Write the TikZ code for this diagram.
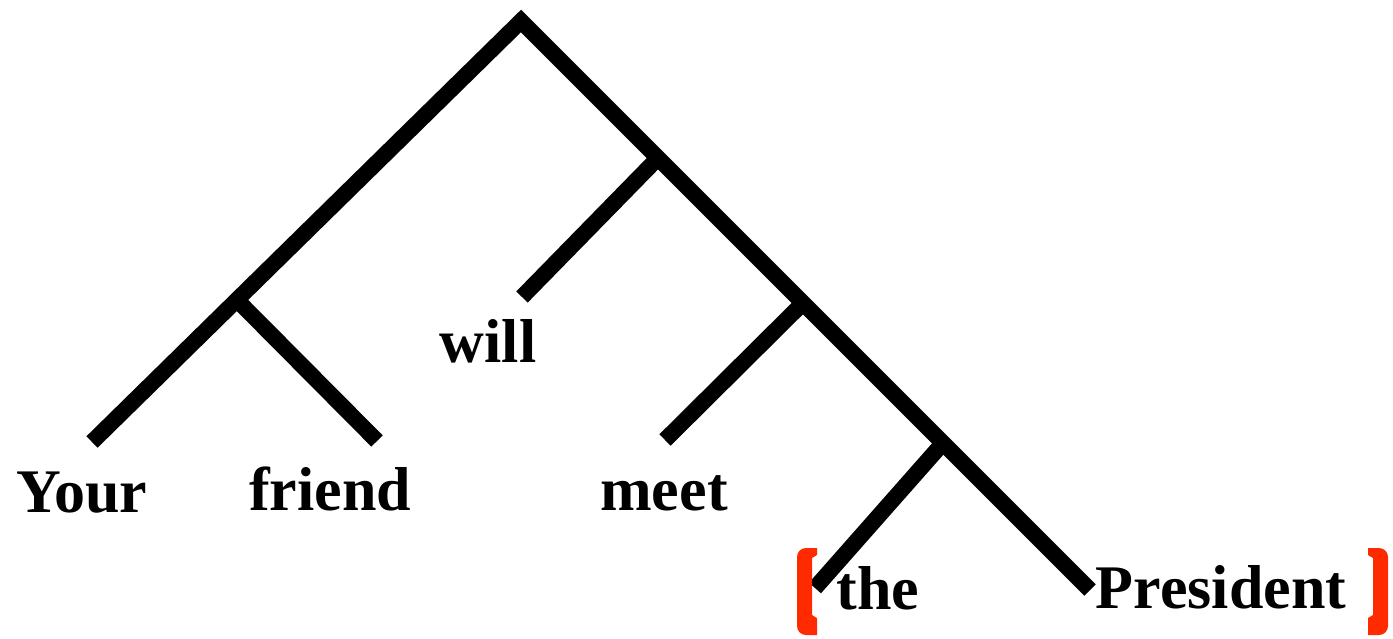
\documentclass[tikz,border=0pt]{standalone}
\usepackage{fontspec}
\setmainfont{Liberation Serif}
\definecolor{bracketred}{RGB}{255,42,0}
\begin{document}
\begin{tikzpicture}[x=1pt,y=-1pt,
  branch/.style={draw=black, line width=16pt, line cap=butt, line join=miter},
  word/.style={anchor=base, inner sep=0pt, font=\fontsize{62}{62}\selectfont\bfseries},
  brk/.style={fill=bracketred}]
\useasboundingbox (0,0) rectangle (1393,638);
% tree points
\coordinate (top) at (521,21);
\coordinate (j1) at (237,300);
\coordinate (yourE) at (92,442);
\coordinate (friendE) at (377,441);
\coordinate (j2) at (658,158);
\coordinate (willE) at (522,297);
\coordinate (j3) at (803,303);
\coordinate (meetE) at (665,440);
\coordinate (j4) at (943,443);
\coordinate (theE) at (815,588);
\coordinate (presE) at (1090,590);
% branches
\draw[branch] (yourE) -- (top) -- (presE);
\draw[branch] (j1) -- (friendE);
\draw[branch] (j2) -- (willE);
\draw[branch] (j3) -- (meetE);
\draw[branch] (j4) -- (theE);
% words
\node[word] (your) at (82,512) {Your};
\node[word] (friend) at (330,510) {friend};
\node[word] (will) at (488,362) {will};
\node[word] (meet) at (664,510) {meet};
\node[word] (the) at (878,609) {the};
\node[word] (pres) at (1221,608) {President};
% brackets
\fill[brk] (817,548) [rounded corners=9] -- (797,548) -- (797,635) [sharp corners] -- (817,635) -- (817,618) -- (812,615) -- (812,558) -- (817,555) -- cycle;
\fill[brk] (1368,548) [rounded corners=9] -- (1388,548) -- (1388,635) [sharp corners] -- (1368,635) -- (1368,618) -- (1373,615) -- (1373,558) -- (1368,555) -- cycle;
\end{tikzpicture}
\end{document}
